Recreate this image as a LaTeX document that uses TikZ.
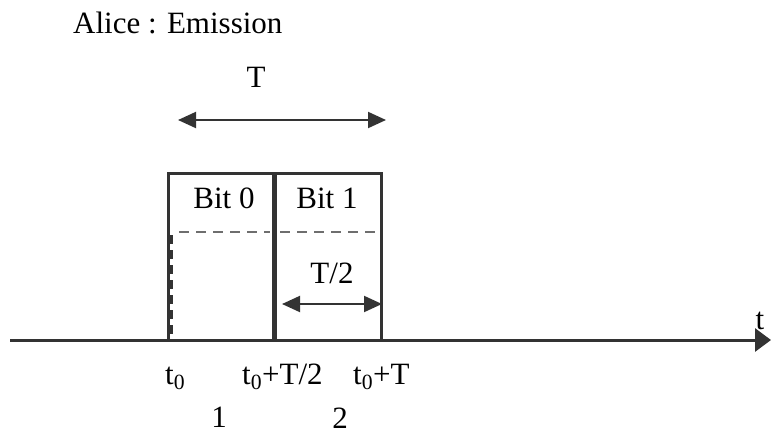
\documentclass[tikz,border=0pt]{standalone}
\usepackage{fontspec}
\setmainfont{Liberation Serif}
\usetikzlibrary{arrows.meta}
\definecolor{dk}{HTML}{333333}
\definecolor{dg}{HTML}{6E6E6E}
\begin{document}
\begin{tikzpicture}[x=1pt,y=-1pt,
  lbl/.style={inner sep=0pt, anchor=base, font=\fontsize{31}{36}\selectfont},
  lblw/.style={lbl, anchor=base west},
  ln/.style={draw=dk, line width=3pt},
  dbl/.style={draw=dk, line width=2pt, {Triangle[length=18pt,width=16pt]}-{Triangle[length=18pt,width=16pt]}},
  dsh/.style={draw=dg, line width=1.6pt, dash pattern=on 10pt off 7pt}]
\useasboundingbox (0,0) rectangle (771,434);
% box
\coordinate (bl) at (168,340);
\coordinate (tl) at (168,173);
\coordinate (tr) at (381,173);
\coordinate (br) at (381,340);
\coordinate (mt) at (274,173);
\coordinate (mb) at (274,340);
\draw[ln, line join=miter] (bl) -- (tl) -- (tr) -- (br);
\draw[ln, line width=5pt] (mt) -- (mb);
% dashed lines
\coordinate (d1a) at (179,232); \coordinate (d1b) at (270,232);
\coordinate (d2a) at (280,232); \coordinate (d2b) at (381,232);
\draw[dsh] (d1a) -- (d1b);
\draw[dsh] (d2a) -- (d2b);
\coordinate (v1a) at (171,235); \coordinate (v1b) at (171,338);
\draw[draw=dk, line width=3pt, dash pattern=on 9pt off 6pt] (v1a) -- (v1b);
% axis
\coordinate (ax0) at (10,340);
\coordinate (ax1) at (771,340);
\draw[ln, -{Triangle[length=16pt,width=23pt]}] (ax0) -- (ax1);
% T arrow
\coordinate (ta) at (178,120); \coordinate (tb) at (386,120);
\draw[dbl] (ta) -- (tb);
% T/2 arrow
\coordinate (ha) at (282,304); \coordinate (hb) at (382,304);
\draw[dbl] (ha) -- (hb);
% texts
\node[lblw] (title) at (73,33) {Alice : Emission};
\node[lbl] (tlab) at (256,87) {T};
\node[lbl] (bit0) at (224,208) {Bit 0};
\node[lbl] (bit1) at (327,208) {Bit 1};
\node[lbl] (half) at (332,283) {T/2};
\node[lblw] (t0) at (165,384) {t\textsubscript{0}};
\node[lblw] (t0h) at (242,384) {t\textsubscript{0}+T/2};
\node[lblw] (t0T) at (353,384) {t\textsubscript{0}+T};
\node[lbl] (n1) at (219,427) {1};
\node[lbl] (n2) at (340,428) {2};
\node[lbl] (tax) at (760,329) {t};
\end{tikzpicture}
\end{document}
